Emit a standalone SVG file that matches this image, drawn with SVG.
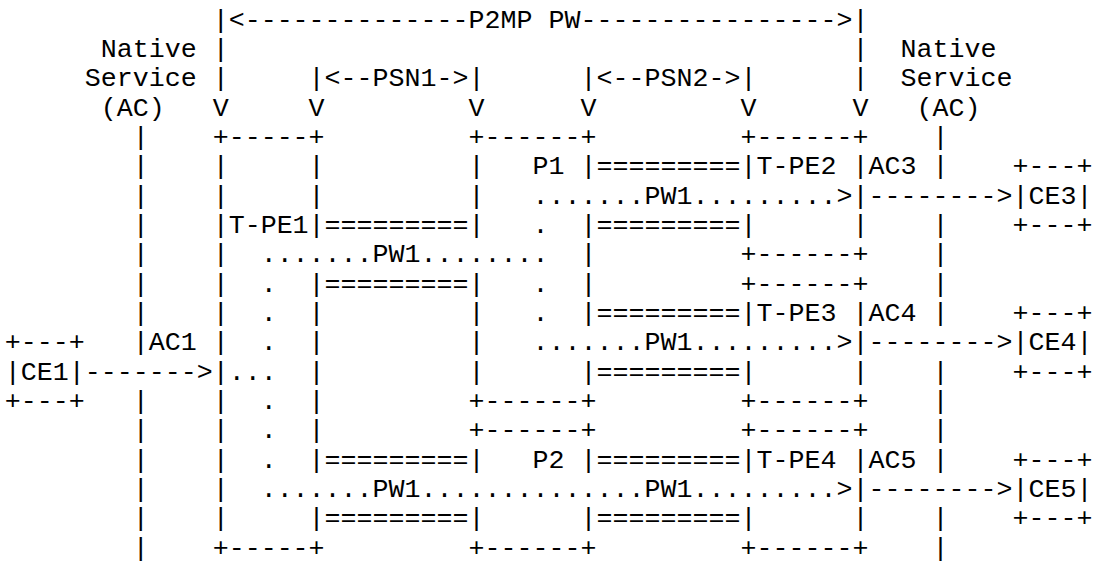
<svg xmlns="http://www.w3.org/2000/svg" width="1093" height="563" viewBox="0 0 1093 563">
<style>
text { font-family: "Liberation Mono", "Courier New", monospace; font-size: 26.67px; fill: #000; white-space: pre; }
</style>
<rect width="1093" height="563" fill="#fff"/>
<g id="ascii-diagram" xml:space="preserve">
<text x="4.7" y="27.5">             |&lt;--------------P2MP PW----------------&gt;|</text>
<text x="4.7" y="56.83">      Native |                                       |  Native</text>
<text x="4.7" y="86.17">     Service |     |&lt;--PSN1-&gt;|      |&lt;--PSN2-&gt;|      |  Service</text>
<text x="4.7" y="115.5">      (AC)   V     V         V      V         V      V   (AC)</text>
<text x="4.7" y="144.83">        |    +-----+         +------+         +------+    |</text>
<text x="4.7" y="174.17">        |    |     |         |   P1 |=========|T-PE2 |AC3 |    +---+</text>
<text x="4.7" y="203.5">        |    |     |         |   .......PW1.........&gt;|--------&gt;|CE3|</text>
<text x="4.7" y="232.83">        |    |T-PE1|=========|   .  |=========|      |    |    +---+</text>
<text x="4.7" y="262.17">        |    |  .......PW1........  |         +------+    |</text>
<text x="4.7" y="291.5">        |    |  .  |=========|   .  |         +------+    |</text>
<text x="4.7" y="320.83">        |    |  .  |         |   .  |=========|T-PE3 |AC4 |    +---+</text>
<text x="4.7" y="350.17">+---+   |AC1 |  .  |         |   .......PW1.........&gt;|--------&gt;|CE4|</text>
<text x="4.7" y="379.5">|CE1|-------&gt;|...  |         |      |=========|      |    |    +---+</text>
<text x="4.7" y="408.83">+---+   |    |  .  |         +------+         +------+    |</text>
<text x="4.7" y="438.17">        |    |  .  |         +------+         +------+    |</text>
<text x="4.7" y="467.5">        |    |  .  |=========|   P2 |=========|T-PE4 |AC5 |    +---+</text>
<text x="4.7" y="496.83">        |    |  .......PW1..............PW1.........&gt;|--------&gt;|CE5|</text>
<text x="4.7" y="526.17">        |    |     |=========|      |=========|      |    |    +---+</text>
<text x="4.7" y="555.5">        |    +-----+         +------+         +------+    |</text>
</g>
</svg>
